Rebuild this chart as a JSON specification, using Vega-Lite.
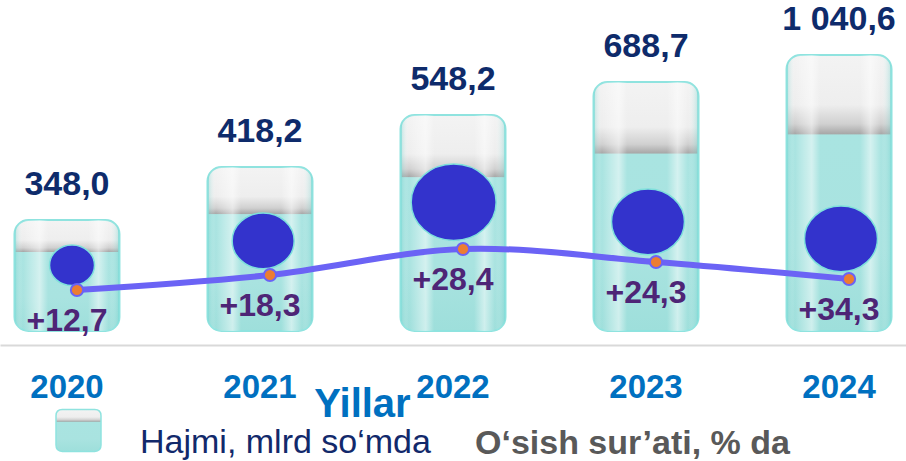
{
  "$schema": "https://vega.github.io/schema/vega-lite/v6.json",
  "width": 906,
  "height": 331,
  "padding": 0,
  "autosize": {"type": "pad"},
  "background": "white",
  "config": {
    "view": {"stroke": null},
    "font": "Liberation Sans",
    "locale": {"number": {"decimal": ",", "thousands": " ", "grouping": [3], "currency": ["", ""]}}
  },
  "data": {
    "values": [
      {"year": "2020", "volume": 348.0, "growth": 12.7},
      {"year": "2021", "volume": 418.2, "growth": 18.3},
      {"year": "2022", "volume": 548.2, "growth": 28.4},
      {"year": "2023", "volume": 688.7, "growth": 24.3},
      {"year": "2024", "volume": 1040.6, "growth": 34.3}
    ]
  },
  "encoding": {
    "x": {
      "field": "year",
      "type": "nominal",
      "scale": {"paddingInner": 0.456, "paddingOuter": 0.075},
      "axis": {
        "title": "Yillar",
        "labelAngle": 0,
        "labelFont": "Liberation Sans",
        "labelFontSize": 33,
        "labelFontWeight": "bold",
        "labelColor": "#0070C0",
        "labelPadding": 26,
        "labelBaseline": "top",
        "ticks": false,
        "domainColor": "#D9D9D9",
        "domainWidth": 2,
        "offset": 14,
        "titleFont": "Liberation Sans",
        "titleFontSize": 40,
        "titleFontWeight": "bold",
        "titleColor": "#0070C0",
        "titleX": 362,
        "titleY": 71,
        "titleAlign": "center",
        "titleBaseline": "alphabetic"
      }
    }
  },
  "layer": [
    {
      "layer": [
        {
          "mark": {
            "type": "bar",
            "cornerRadius": 14,
            "strokeWidth": 2,
            "fill": {
              "gradient": "linear", "x1": 0, "y1": 0, "x2": 0, "y2": 1,
              "stops": [
                {"offset": 0, "color": "#F3F3F3"},
                {"offset": 0.18, "color": "#EEEEEE"},
                {"offset": 0.25, "color": "#D0D0D0"},
                {"offset": 0.285, "color": "#A8A8A8"},
                {"offset": 0.29, "color": "#A9E4E1"},
                {"offset": 0.7, "color": "#A9E3E0"},
                {"offset": 1, "color": "#9EDFDB"}
              ]
            }
          },
          "encoding": {
            "y": {
              "field": "volume", "type": "quantitative",
              "scale": {"domain": [0, 348, 418.2, 548.2, 688.7, 1040.6], "range": [331, 220, 167, 115, 82, 55], "nice": false, "zero": false},
              "axis": null
            },
            "stroke": {
              "datum": "Hajmi, mlrd so‘mda",
              "type": "nominal",
              "scale": {"range": ["#8FE3DF"]},
              "legend": {
                "orient": "none",
                "legendX": 55,
                "legendY": 402,
                "title": null,
                "padding": 0,
                "symbolType": "M-1,-0.43 Q-1,-0.71 -0.72,-0.71 L0.72,-0.71 Q1,-0.71 1,-0.43 L1,0.87 Q1,1.15 0.72,1.15 L-0.72,1.15 Q-1,1.15 -1,0.87 Z",
                "symbolSize": 2025,
                "labelOffset": 38,
                "labelFont": "Liberation Sans",
                "labelFontSize": 34,
                "labelBaseline": "top",
                "labelColor": "#12296B",
                "labelLimit": 0,
                "encode": {
                  "symbols": {
                    "update": {
                      "fill": {"value": {"gradient": "linear", "x1": 0, "y1": 0, "x2": 0, "y2": 1, "stops": [{"offset": 0, "color": "#F0F0F0"}, {"offset": 0.1, "color": "#E2E2E2"}, {"offset": 0.17, "color": "#B0B0B0"}, {"offset": 0.19, "color": "#A9E4E1"}, {"offset": 1, "color": "#9FE0DC"}]}},
                      "stroke": {"value": "#8FE3DF"},
                      "strokeWidth": {"value": 2},
                      "opacity": {"value": 1}
                    }
                  }
                }
              }
            }
          }
        },
        {
          "mark": {
            "type": "bar",
            "cornerRadius": 14,
            "fill": {
              "gradient": "linear", "x1": 0, "y1": 0, "x2": 1, "y2": 0,
              "stops": [
                {"offset": 0, "color": "rgba(100,205,200,0.4)"},
                {"offset": 0.08, "color": "rgba(255,255,255,0)"},
                {"offset": 0.24, "color": "rgba(255,255,255,0.5)"},
                {"offset": 0.32, "color": "rgba(255,255,255,0)"},
                {"offset": 0.7, "color": "rgba(255,255,255,0)"},
                {"offset": 0.8, "color": "rgba(255,255,255,0.5)"},
                {"offset": 0.9, "color": "rgba(255,255,255,0)"},
                {"offset": 1, "color": "rgba(100,205,200,0.4)"}
              ]
            }
          },
          "encoding": {
            "y": {
              "field": "volume", "type": "quantitative",
              "scale": {"domain": [0, 348, 418.2, 548.2, 688.7, 1040.6], "range": [331, 220, 167, 115, 82, 55], "nice": false, "zero": false},
              "axis": null
            }
          }
        },
        {
          "mark": {"type": "text", "baseline": "alphabetic", "align": "center", "dy": -25, "font": "Liberation Sans", "fontSize": 34, "fontWeight": "bold", "color": "#0E2B6B"},
          "encoding": {
            "y": {
              "field": "volume", "type": "quantitative",
              "scale": {"domain": [0, 348, 418.2, 548.2, 688.7, 1040.6], "range": [331, 220, 167, 115, 82, 55], "nice": false, "zero": false},
              "axis": null
            },
            "text": {"field": "volume", "type": "quantitative", "format": ",.1f"}
          }
        }
      ]
    },
    {
      "layer": [
        {
          "mark": {"type": "line", "interpolate": "catmull-rom", "strokeWidth": 6, "xOffset": 10},
          "encoding": {
            "y": {
              "field": "growth", "type": "quantitative",
              "scale": {"domain": [12.7, 18.3, 24.3, 28.4, 34.3], "range": [290, 275, 262, 249, 279], "nice": false, "zero": false},
              "axis": null
            },
            "color": {
              "datum": "O‘sish sur’ati, % da",
              "type": "nominal",
              "scale": {"range": ["#6B63F5"]},
              "legend": {
                "orient": "none",
                "legendX": 390,
                "legendY": 410,
                "title": null,
                "padding": 0,
                "symbolType": "square",
                "symbolSize": 2025,
                "labelOffset": 38,
                "labelFont": "Liberation Sans",
                "labelFontSize": 34,
                "labelFontWeight": "bold",
                "labelColor": "#595959",
                "labelLimit": 0,
                "encode": {
                  "symbols": {"update": {"opacity": {"value": 0}}},
                  "labels": {"update": {"dy": {"value": 10}}}
                }
              }
            }
          }
        },
        {
          "mark": {
            "type": "point",
            "filled": true,
            "fill": "#3333CC",
            "stroke": "#7FE0DC",
            "strokeWidth": 1.5,
            "opacity": 1,
            "xOffset": 10,
            "shape": "M-1.22,-1.1 A1,0.9 0 1,1 0.78,-1.1 A1,0.9 0 1,1 -1.22,-1.1 Z"
          },
          "encoding": {
            "y": {
              "field": "growth", "type": "quantitative",
              "scale": {"domain": [12.7, 18.3, 24.3, 28.4, 34.3], "range": [290, 275, 262, 249, 279], "nice": false, "zero": false},
              "axis": null
            },
            "size": {
              "field": "growth", "type": "quantitative",
              "scale": {"domain": [12.7, 18.3, 24.3, 28.4, 34.3], "range": [2025, 3844, 5329, 7225, 5329], "zero": false, "nice": false},
              "legend": null
            }
          }
        },
        {
          "mark": {"type": "point", "filled": true, "fill": "#ED7D31", "stroke": "#6B63F5", "strokeWidth": 2, "opacity": 1, "size": 150, "xOffset": 10},
          "encoding": {
            "y": {
              "field": "growth", "type": "quantitative",
              "scale": {"domain": [12.7, 18.3, 24.3, 28.4, 34.3], "range": [290, 275, 262, 249, 279], "nice": false, "zero": false},
              "axis": null
            }
          }
        },
        {
          "mark": {"type": "text", "baseline": "alphabetic", "align": "center", "dy": 41, "font": "Liberation Sans", "fontSize": 32, "fontWeight": "bold", "color": "#4E2576"},
          "encoding": {
            "y": {
              "field": "growth", "type": "quantitative",
              "scale": {"domain": [12.7, 18.3, 24.3, 28.4, 34.3], "range": [290, 275, 262, 249, 279], "nice": false, "zero": false},
              "axis": null
            },
            "text": {"field": "growth", "type": "quantitative", "format": "+.1f"}
          }
        }
      ]
    }
  ],
  "resolve": {"scale": {"y": "independent"}}
}
